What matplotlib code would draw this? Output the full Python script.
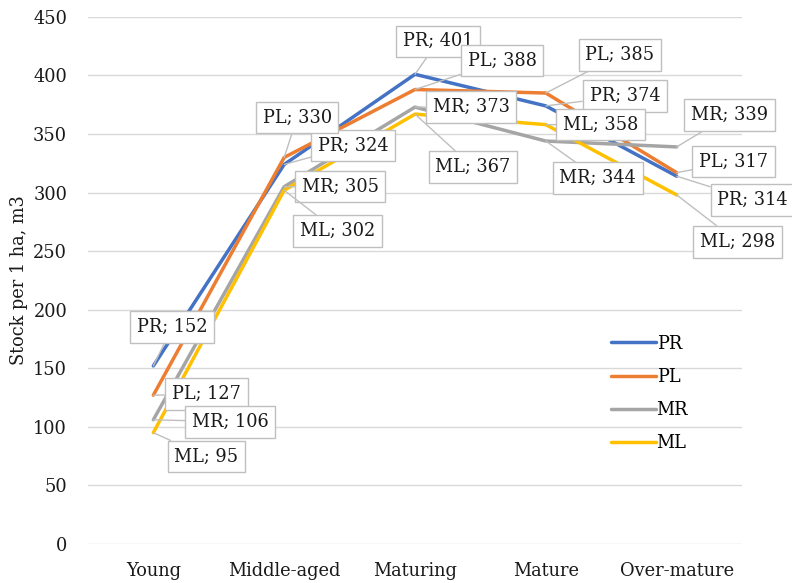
import numpy as np
import matplotlib.pyplot as plt

categories = ["Young", "Middle-aged", "Maturing", "Mature", "Over-mature"]
series_names = ["PR", "PL", "MR", "ML"]
pr = [152, 324, 401, 374, 314]
pl = [127, 330, 388, 385, 317]
mr = [106, 305, 373, 344, 339]
ml = [95, 302, 367, 358, 298]
colors = ["#4472C4", "#ED7D31", "#A5A5A5", "#FFC000"]

# label box offsets from each point, in pixels (dx right, dy up)
label_offsets = {
    "PR": [(19, 39), (69, 19), (23, 33), (79, 10), (76, -24)],
    "PL": [(53, 1), (13, 40), (87, 29), (74, 38), (57, 11)],
    "MR": [(77, -2), (56, 0), (56, 0), (52, -37), (53, 32)],
    "ML": [(53, -24), (53, -41), (58, -53), (55, 0), (61, -47)],
}

plt.rcParams['font.family'] = 'DejaVu Serif'
fs = 12.8
txt = '#1a1a1a'

fig = plt.figure(figsize=(7.92, 5.83), dpi=100)
ax = fig.add_axes([0.111, 0.067, 0.826, 0.904])

x = np.arange(len(categories))
data = [pr, pl, mr, ml]
for name, vals, c in zip(series_names, data, colors):
    ax.plot(x, vals, color=c, lw=2.5, label=name, solid_capstyle='round', zorder=3)

for name, vals in zip(series_names, data):
    for i, v in enumerate(vals):
        dx, dy = label_offsets[name][i]
        ax.annotate(f"{name}; {v}", xy=(x[i], v), xytext=(dx, dy),
                    textcoords='offset pixels', ha='center', va='center',
                    fontsize=fs, color=txt, zorder=5,
                    bbox=dict(boxstyle='square,pad=0.38', fc='white', ec='#BFBFBF', lw=1),
                    arrowprops=dict(arrowstyle='-', color='#BFBFBF', lw=1,
                                    shrinkA=0, shrinkB=0))

ax.set_xlim(-0.5, 4.5)
ax.set_ylim(0, 450)
ax.set_yticks(range(0, 451, 50))
ax.set_xticks(x)
ax.set_xticklabels(categories)
ax.tick_params(length=0, labelsize=fs, colors=txt)
ax.tick_params(axis='y', pad=15)
ax.tick_params(axis='x', pad=13)
ax.grid(axis='y', color='#D9D9D9', lw=1)
ax.set_axisbelow(True)
for s in ax.spines.values():
    s.set_visible(False)
ax.set_ylabel("Stock per 1 ha, m3", fontsize=fs, color=txt, labelpad=4)

ax.legend(loc='upper left', bbox_to_anchor=(0.8, 0.397), frameon=False,
          fontsize=fs, handlelength=2.5, handletextpad=0.05, labelspacing=0.85,
          borderaxespad=0, borderpad=0)

fig.savefig("out.png", dpi=100)
